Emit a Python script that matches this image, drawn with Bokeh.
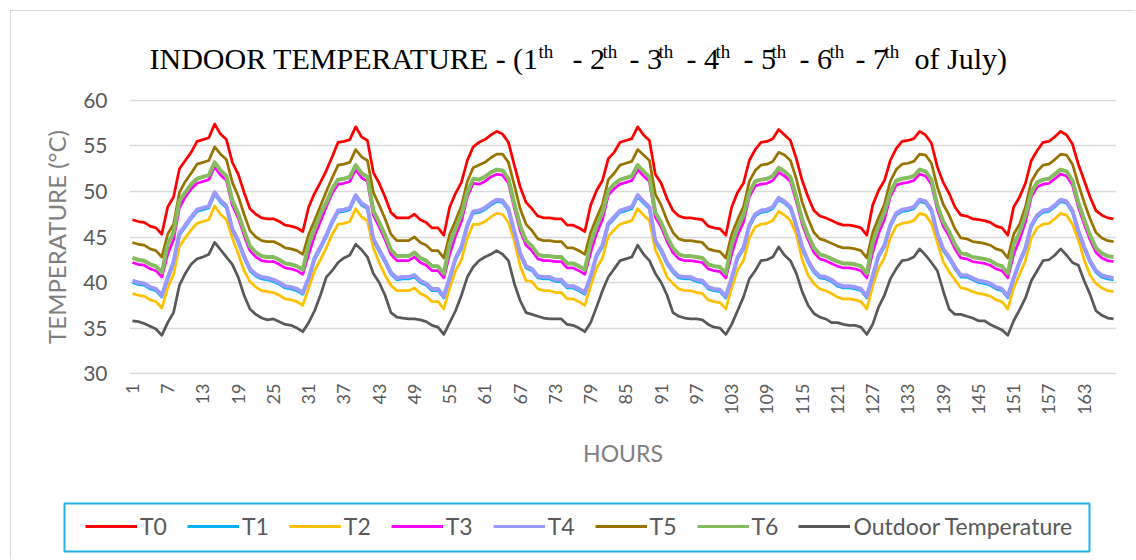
import math
from bokeh.plotting import figure
from bokeh.models import Range1d, FixedTicker, Legend, LegendItem
from bokeh.layouts import column
from bokeh.core.properties import value
from bokeh.embed import file_html
from bokeh.resources import INLINE

hours = list(range(1, 169))

T0 = [46.9,46.7,46.6,46.2,46.0,45.3,48.3,49.4,52.5,53.4,54.3,55.5,55.7,55.9,57.4,56.3,55.7,53.2,51.9,49.9,48.1,47.5,47.1,47.0,
      47.0,46.7,46.3,46.2,46.0,45.6,48.3,49.8,51.0,52.3,53.8,55.4,55.5,55.7,57.1,56.0,55.6,52.1,50.9,49.4,47.7,47.1,47.1,47.1,
      47.5,46.9,46.6,46.0,46.0,45.2,48.3,49.8,51.0,53.4,54.9,55.4,55.7,56.2,56.6,56.3,55.4,52.9,50.5,48.8,48.1,47.3,47.1,47.1,
      47.0,47.0,46.3,46.3,46.0,45.6,48.5,50.1,51.2,53.6,54.3,55.4,55.6,55.8,57.1,56.2,55.6,51.9,50.9,49.2,47.9,47.3,47.1,47.1,
      47.0,46.9,46.2,46.0,45.9,45.2,48.3,49.9,50.9,53.4,54.6,55.4,55.5,55.8,56.8,56.2,55.6,53.6,51.2,49.4,47.9,47.3,47.1,46.8,
      46.5,46.3,46.3,46.2,46.0,45.2,48.5,50.1,51.2,53.4,54.7,55.5,55.6,55.8,56.6,56.2,55.3,52.7,51.0,49.8,48.3,47.4,47.3,47.0,
      46.9,46.8,46.6,46.2,46.0,45.2,48.3,49.4,50.9,53.4,54.5,55.4,55.5,56.0,56.6,56.2,55.2,53.0,51.2,49.4,47.9,47.4,47.1,47.0]

T1 = [40.0,39.8,39.7,39.3,39.1,38.4,40.3,42.1,45.2,46.1,47.0,47.8,48.0,48.2,49.7,48.8,48.2,45.7,44.4,42.7,41.3,40.7,40.4,40.3,
      40.1,39.8,39.4,39.3,39.1,38.7,40.3,42.5,43.7,45.0,46.5,47.7,47.8,48.0,49.4,48.5,48.1,44.6,43.4,42.2,40.9,40.3,40.4,40.4,
      40.6,40.0,39.7,39.1,39.1,38.3,40.3,42.5,43.7,46.1,47.6,47.7,48.0,48.5,48.9,48.8,47.9,45.4,43.0,41.6,41.3,40.5,40.4,40.4,
      40.1,40.1,39.4,39.4,39.1,38.7,40.5,42.8,43.9,46.3,47.0,47.7,47.9,48.1,49.4,48.7,48.1,44.4,43.4,42.0,41.1,40.5,40.4,40.4,
      40.1,40.0,39.3,39.1,39.0,38.3,40.3,42.6,43.6,46.1,47.3,47.7,47.8,48.1,49.1,48.7,48.1,46.1,43.7,42.2,41.1,40.5,40.4,40.1,
      39.6,39.4,39.4,39.3,39.1,38.3,40.5,42.8,43.9,46.1,47.4,47.8,47.9,48.1,48.9,48.7,47.8,45.2,43.5,42.6,41.5,40.6,40.6,40.3,
      40.0,39.9,39.7,39.3,39.1,38.3,40.3,42.1,43.6,46.1,47.2,47.7,47.8,48.3,48.9,48.7,47.7,45.5,43.7,42.2,41.1,40.6,40.4,40.3]

T2 = [38.8,38.6,38.5,38.1,37.9,37.2,39.4,40.9,44.0,44.9,45.8,46.5,46.7,46.9,48.4,47.5,46.9,44.9,43.2,41.3,40.1,39.5,39.1,39.0,
      38.9,38.6,38.2,38.1,37.9,37.5,39.4,41.3,42.5,43.8,45.3,46.4,46.5,46.7,48.1,47.2,46.8,43.8,42.2,40.8,39.7,39.1,39.1,39.1,
      39.4,38.8,38.5,37.9,37.9,37.1,39.4,41.3,42.5,44.9,46.4,46.4,46.7,47.2,47.6,47.5,46.6,44.6,41.8,40.2,40.1,39.3,39.1,39.1,
      38.9,38.9,38.2,38.2,37.9,37.5,39.6,41.6,42.7,45.1,45.8,46.4,46.6,46.8,48.1,47.4,46.8,43.6,42.2,40.6,39.9,39.3,39.1,39.1,
      38.9,38.8,38.1,37.9,37.8,37.1,39.4,41.4,42.4,44.9,46.1,46.4,46.5,46.8,47.8,47.4,46.8,45.3,42.5,40.8,39.9,39.3,39.1,38.8,
      38.4,38.2,38.2,38.1,37.9,37.1,39.6,41.6,42.7,44.9,46.2,46.5,46.6,46.8,47.6,47.4,46.5,44.4,42.3,41.2,40.3,39.4,39.3,39.0,
      38.8,38.7,38.5,38.1,37.9,37.1,39.4,40.9,42.4,44.9,46.0,46.4,46.5,47.0,47.6,47.4,46.4,44.7,42.5,40.8,39.9,39.4,39.1,39.0]

T3 = [42.2,42.0,41.9,41.5,41.3,40.6,43.1,44.7,48.2,49.4,50.3,50.9,51.1,51.3,52.7,51.8,51.2,48.5,47.1,45.2,43.5,42.8,42.4,42.3,
      42.3,42.0,41.6,41.5,41.3,40.9,43.1,45.1,46.7,48.3,49.8,50.8,50.9,51.1,52.4,51.5,51.1,47.4,46.1,44.7,43.1,42.4,42.4,42.4,
      42.8,42.2,41.9,41.3,41.3,40.5,43.1,45.1,46.7,49.4,50.9,50.8,51.1,51.6,51.9,51.8,50.9,48.2,45.7,44.1,43.5,42.6,42.4,42.4,
      42.3,42.3,41.6,41.6,41.3,40.9,43.3,45.4,46.9,49.6,50.3,50.8,51.0,51.2,52.4,51.7,51.1,47.2,46.1,44.5,43.3,42.6,42.4,42.4,
      42.3,42.2,41.5,41.3,41.2,40.5,43.1,45.2,46.6,49.4,50.6,50.8,50.9,51.2,52.1,51.7,51.1,48.9,46.4,44.7,43.3,42.6,42.4,42.1,
      41.8,41.6,41.6,41.5,41.3,40.5,43.3,45.4,46.9,49.4,50.7,50.9,51.0,51.2,51.9,51.7,50.8,48.0,46.2,45.1,43.7,42.7,42.6,42.3,
      42.2,42.1,41.9,41.5,41.3,40.5,43.1,44.7,46.6,49.4,50.5,50.8,50.9,51.4,51.9,51.7,50.7,48.3,46.4,44.7,43.3,42.7,42.4,42.3]

T4 = [40.2,40.0,39.9,39.5,39.3,38.6,40.5,42.3,45.4,46.3,47.2,48.0,48.2,48.4,49.9,49.0,48.4,45.9,44.6,42.9,41.5,40.9,40.6,40.5,
      40.3,40.0,39.6,39.5,39.3,38.9,40.5,42.7,43.9,45.2,46.7,47.9,48.0,48.2,49.6,48.7,48.3,44.8,43.6,42.4,41.1,40.5,40.6,40.6,
      40.8,40.2,39.9,39.3,39.3,38.5,40.5,42.7,43.9,46.3,47.8,47.9,48.2,48.7,49.1,49.0,48.1,45.6,43.2,41.8,41.5,40.7,40.6,40.6,
      40.3,40.3,39.6,39.6,39.3,38.9,40.7,43.0,44.1,46.5,47.2,47.9,48.1,48.3,49.6,48.9,48.3,44.6,43.6,42.2,41.3,40.7,40.6,40.6,
      40.3,40.2,39.5,39.3,39.2,38.5,40.5,42.8,43.8,46.3,47.5,47.9,48.0,48.3,49.3,48.9,48.3,46.3,43.9,42.4,41.3,40.7,40.6,40.3,
      39.8,39.6,39.6,39.5,39.3,38.5,40.7,43.0,44.1,46.3,47.6,48.0,48.1,48.3,49.1,48.9,48.0,45.4,43.7,42.8,41.7,40.8,40.8,40.5,
      40.2,40.1,39.9,39.5,39.3,38.5,40.5,42.3,43.8,46.3,47.4,47.9,48.0,48.5,49.1,48.9,47.9,45.7,43.9,42.4,41.3,40.8,40.6,40.5]

T5 = [44.4,44.2,44.1,43.7,43.5,42.8,45.3,46.4,49.9,51.1,52.0,53.0,53.2,53.4,54.9,54.1,53.5,51.0,49.5,47.5,45.7,45.0,44.6,44.5,
      44.5,44.2,43.8,43.7,43.5,43.1,45.3,46.8,48.4,50.0,51.5,52.9,53.0,53.2,54.6,53.8,53.4,49.9,48.5,47.0,45.3,44.6,44.6,44.6,
      45.0,44.4,44.1,43.5,43.5,42.7,45.3,46.8,48.4,51.1,52.6,52.9,53.2,53.7,54.1,54.1,53.2,50.7,48.1,46.4,45.7,44.8,44.6,44.6,
      44.5,44.5,43.8,43.8,43.5,43.1,45.5,47.1,48.6,51.3,52.0,52.9,53.1,53.3,54.6,54.0,53.4,49.7,48.5,46.8,45.5,44.8,44.6,44.6,
      44.5,44.4,43.7,43.5,43.4,42.7,45.3,46.9,48.3,51.1,52.3,52.9,53.0,53.3,54.3,54.0,53.4,51.4,48.8,47.0,45.5,44.8,44.6,44.3,
      44.0,43.8,43.8,43.7,43.5,42.7,45.5,47.1,48.6,51.1,52.4,53.0,53.1,53.3,54.1,54.0,53.1,50.5,48.6,47.4,45.9,44.9,44.8,44.5,
      44.4,44.3,44.1,43.7,43.5,42.7,45.3,46.4,48.3,51.1,52.2,52.9,53.0,53.5,54.1,54.0,53.0,50.8,48.8,47.0,45.5,44.9,44.6,44.5]

T6 = [42.7,42.5,42.4,42.0,41.8,41.1,44.2,45.5,49.0,49.9,50.8,51.4,51.6,51.8,53.2,52.3,51.7,49.0,47.6,45.7,44.0,43.3,42.9,42.8,
      42.8,42.5,42.1,42.0,41.8,41.4,44.2,45.9,47.5,48.8,50.3,51.3,51.4,51.6,52.9,52.0,51.6,47.9,46.6,45.2,43.6,42.9,42.9,42.9,
      43.3,42.7,42.4,41.8,41.8,41.0,44.2,45.9,47.5,49.9,51.4,51.3,51.6,52.1,52.4,52.3,51.4,48.7,46.2,44.6,44.0,43.1,42.9,42.9,
      42.8,42.8,42.1,42.1,41.8,41.4,44.4,46.2,47.7,50.1,50.8,51.3,51.5,51.7,52.9,52.2,51.6,47.7,46.6,45.0,43.8,43.1,42.9,42.9,
      42.8,42.7,42.0,41.8,41.7,41.0,44.2,46.0,47.4,49.9,51.1,51.3,51.4,51.7,52.6,52.2,51.6,49.4,46.9,45.2,43.8,43.1,42.9,42.6,
      42.3,42.1,42.1,42.0,41.8,41.0,44.4,46.2,47.7,49.9,51.2,51.4,51.5,51.7,52.4,52.2,51.3,48.5,46.7,45.6,44.2,43.2,43.1,42.8,
      42.7,42.6,42.4,42.0,41.8,41.0,44.2,45.5,47.4,49.9,51.0,51.3,51.4,51.9,52.4,52.2,51.2,48.8,46.9,45.2,43.8,43.2,42.9,42.8]

OUTDOOR = [35.8,35.7,35.5,35.2,34.9,34.2,35.6,36.7,39.7,41.0,42.0,42.6,42.8,43.1,44.4,43.6,42.8,42.0,40.6,38.6,37.1,36.5,36.1,35.9,
           36.0,35.7,35.4,35.3,35.0,34.6,35.6,36.9,38.6,40.6,41.3,42.2,42.7,43.0,44.2,43.6,42.8,41.0,40.0,38.6,36.7,36.2,36.1,36.0,
           36.0,35.9,35.7,35.3,35.1,34.3,35.6,36.9,38.6,40.6,41.7,42.4,42.8,43.1,43.5,43.1,42.4,39.9,38.0,36.7,36.5,36.3,36.1,36.0,
           36.0,36.0,35.4,35.3,35.0,34.6,35.6,37.3,39.1,40.6,41.5,42.4,42.6,42.8,44.1,43.1,42.4,41.0,40.0,38.6,36.7,36.3,36.1,36.0,
           36.0,35.9,35.4,35.1,35.0,34.3,35.4,36.9,38.4,40.4,41.3,42.4,42.5,42.8,43.9,43.0,42.4,41.0,39.0,37.5,36.6,36.2,36.0,35.6,
           35.6,35.4,35.3,35.3,35.1,34.3,35.4,37.3,38.6,40.4,41.5,42.4,42.5,42.8,43.7,43.0,42.2,41.3,39.1,37.1,36.5,36.5,36.3,36.1,
           35.8,35.8,35.4,35.1,34.8,34.2,35.8,37.0,38.3,40.2,41.3,42.4,42.5,43.0,43.7,43.0,42.2,41.9,40.2,38.7,36.9,36.4,36.1,36.0]

series_names = ["T0", "T1", "T2", "T3", "T4", "T5", "T6", "Outdoor Temperature"]
series_values = [T0, T1, T2, T3, T4, T5, T6, OUTDOOR]
series_colors = ["#FF0000", "#00B0F0", "#FFC000", "#FF00FF", "#9999FF", "#997300", "#86BC60", "#595959"]
series_widths = [2.75, 2.75, 2.75, 2.75, 4.0, 2.75, 4.0, 2.75]

y_ticks = [30, 35, 40, 45, 50, 55, 60]
x_ticks = list(range(1, 168, 6))

title_main = ["INDOOR TEMPERATURE - (1", "- 2", "- 3", "- 4", "- 5", "- 6", "- 7", "of July)"]
title_sup = ["th"] * 7

SANS = "Lato"
W = 1124

# ---------- title strip (coordinates = page pixels) ----------
tf = figure(width=W, height=75, x_range=Range1d(11, 1135), y_range=Range1d(86, 11),
            x_axis_location=None, y_axis_location=None, min_border=0, frame_align=False,
            output_backend="svg", toolbar_location=None)
tf.grid.visible = False
tf.outline_line_color = None
tf.text(x=[149, 572, 629, 686, 743, 799, 855, 914], y=[58] * 8, text=title_main,
        text_font=value("Liberation Serif"), text_font_size="30px",
        text_baseline="alphabetic", text_align="left", text_color="#000000")
tf.text(x=[538, 602, 658, 715, 771, 829, 884], y=[51] * 7, text=title_sup,
        text_font=value("Liberation Serif"), text_font_size="19px",
        text_baseline="alphabetic", text_align="left", text_color="#000000")

# ---------- main chart ----------
p = figure(frame_width=987, frame_height=275,
           x_range=Range1d(0.5, 168.5), y_range=Range1d(29.9, 60.1),
           min_border_left=118, min_border_right=19, min_border_top=13, min_border_bottom=101,
           frame_align=False, output_backend="svg", toolbar_location=None)
p.outline_line_color = None
p.xgrid.visible = False
p.ygrid.grid_line_color = "#D9D9D9"
p.ygrid.grid_line_width = 1.5
p.yaxis.ticker = FixedTicker(ticks=y_ticks)
p.xaxis.ticker = FixedTicker(ticks=x_ticks)
p.xaxis.major_label_orientation = math.pi / 2
for ax in (p.xaxis[0], p.yaxis[0]):
    ax.axis_line_color = None
    ax.major_tick_line_color = None
    ax.minor_tick_line_color = None
    ax.major_tick_out = 0
    ax.major_tick_in = 0
    ax.major_label_text_font = SANS
    ax.major_label_text_color = "#595959"
    ax.axis_label_text_font = SANS
    ax.axis_label_text_font_style = "normal"
    ax.axis_label_text_color = "#7F7F7F"
    ax.axis_label_text_font_size = "23px"
p.yaxis.axis_label_text_font_size = "24px"
p.yaxis.major_label_text_font_size = "21px"
p.xaxis.major_label_text_font_size = "18px"
p.yaxis.major_label_standoff = 22
p.xaxis.major_label_standoff = 9
p.yaxis.axis_label = "TEMPERATURE (°C)"
p.xaxis.axis_label = "HOURS"
p.yaxis.axis_label_standoff = 9
p.xaxis.axis_label_standoff = 21

for name, vals, col, lw in zip(series_names, series_values, series_colors, series_widths):
    p.line(hours, vals, line_color=col, line_width=lw, line_join="round")

# ---------- legend strip (coordinates = page pixels) ----------
lf = figure(width=W, height=84, x_range=Range1d(11, 1135), y_range=Range1d(559, 475),
            x_axis_location=None, y_axis_location=None, min_border=0, frame_align=False,
            output_backend="svg", toolbar_location=None)
lf.grid.visible = False
lf.outline_line_color = None
lf.quad(left=[64], right=[1089], top=[503], bottom=[551], fill_color=None,
        line_color="#22B0E8", line_width=2)
items = []
for name, col in zip(series_names, series_colors):
    # one off-range point: renders nothing in the strip, only feeds the legend swatch
    r = lf.line([0], [0], line_color=col, line_width=3)
    items.append(LegendItem(label=name, renderers=[r]))
legend = Legend(items=items, orientation="horizontal", location=(74, 19),
                border_line_color=None, background_fill_alpha=0,
                padding=0, margin=0, spacing=20, glyph_width=52, glyph_height=20,
                label_standoff=3, label_text_font=SANS, label_text_font_size="23px",
                label_text_color="#595959")
lf.add_layout(legend)

layout = column(tf, p, lf, margin=(10, 0, 0, 10),
                styles={"border-top": "1px solid #D9D9D9", "border-left": "1px solid #D9D9D9"})

open("out.html", "w").write(file_html(layout, INLINE))
